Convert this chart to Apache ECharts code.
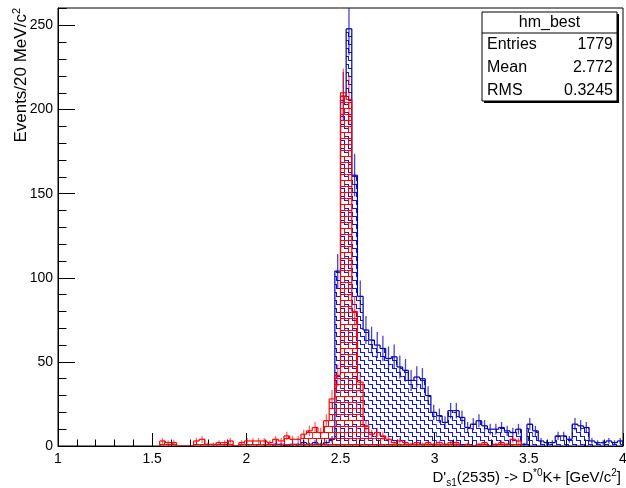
<!DOCTYPE html>
<html lang="en">
<head>
    <meta charset="UTF-8">
    <title>hm_best</title>
    <style>
        html, body { margin: 0; padding: 0; background: #fff; }
        #main { width: 626px; height: 488px; }
    </style>
</head>
<body>
<div id="main"></div>
<script src="https://cdn.jsdelivr.net/npm/echarts@6/dist/echarts.min.js"></script>
<script>
    // binning: 100 bins of 0.03 GeV between 1 and 4
    var xMin = 1.0, xMax = 4.0, binWidth = 0.03;
    var yMax = 260.4;

    // counts per bin
    var blueCounts = [
        0, 0, 0, 0, 0, 0, 0, 0, 0, 0,
        0, 0, 0, 0, 0, 0, 0, 0, 0, 0,
        0, 0, 0, 0, 0, 0, 0, 0, 0, 0,
        0, 0, 0, 0, 0, 0, 0, 0, 1, 1,
        0, 1, 1, 2, 1, 2, 1, 2, 4, 104,
        208, 248, 161, 89, 69, 63, 60, 58, 52, 53,
        47, 45, 39, 41, 40, 30, 20, 18, 14, 21,
        21, 17, 11, 13, 15, 12, 10, 10, 11, 9,
        8, 10, 1, 13, 9, 3, 2, 2, 6, 6,
        4, 13, 12, 11, 3, 2, 2, 3, 2, 3
    ];
    var redCounts = [
        0, 0, 0, 0, 0, 0, 0, 0, 0, 0,
        0, 0, 0, 0, 0, 0, 0, 0, 3, 2,
        2, 0, 0, 0, 3, 4, 1, 1, 2, 2,
        3, 0, 2, 3, 3, 3, 3, 2, 4, 3,
        6, 4, 4, 7, 9, 11, 8, 15, 28, 42,
        210, 206, 80, 38, 12, 7, 8, 6, 4, 2,
        3, 2, 1, 2, 1, 2, 1, 2, 1, 2,
        2, 0, 1, 0, 1, 2, 0, 1, 2, 1,
        4, 3, 0, 0, 0, 0, 0, 0, 0, 0,
        0, 0, 0, 0, 0, 0, 0, 0, 0, 0
    ];

    var statNames = ['Entries', 'Mean', 'RMS'];
    var statValues = ['1779', '2.772', '0.3245'];

    var FONT = '"Liberation Sans", Arial, Helvetica, sans-serif';

    // hatch tiles (ROOT fill styles: stairs for blue, bricks for red)
    function stairsTile(color) {
        var c = document.createElement('canvas');
        c.width = 8; c.height = 8;
        var g = c.getContext('2d');
        g.fillStyle = color;
        g.fillRect(0, 0, 5, 1);
        g.fillRect(4, 0, 1, 5);
        g.fillRect(4, 4, 4, 1);
        g.fillRect(0, 4, 1, 4);
        return c;
    }
    function bricksTile(color) {
        var c = document.createElement('canvas');
        c.width = 8; c.height = 12;
        var g = c.getContext('2d');
        g.fillStyle = color;
        g.fillRect(0, 0, 8, 1);
        g.fillRect(0, 6, 8, 1);
        g.fillRect(0, 0, 1, 6);
        g.fillRect(4, 6, 1, 6);
        return c;
    }

    function histSeries(name, counts, tile, lineColor, errColor) {
        var first = -1, last = -1;
        for (var i = 0; i < counts.length; i++) {
            if (counts[i] > 0) { if (first < 0) first = i; last = i; }
        }
        var data = counts.map(function (v, k) {
            return [xMin + k * binWidth, xMin + (k + 1) * binWidth, v];
        });
        var pattern = {image: tile, repeat: 'repeat'};
        return {
            type: 'custom',
            name: name,
            silent: true,
            clip: true,
            data: data,
            encode: {x: [0, 1], y: 2},
            renderItem: function (params, api) {
                var k = params.dataIndex;
                var lo = api.value(0), hi = api.value(1), v = api.value(2);
                var tl = api.coord([lo, v]);
                var br = api.coord([hi, 0]);
                var kids = [];
                if (v > 0) {
                    kids.push({
                        type: 'rect',
                        shape: {x: tl[0], y: tl[1], width: br[0] - tl[0], height: br[1] - tl[1]},
                        style: {fill: pattern}
                    });
                }
                if (k >= first && k <= last) {
                    var prev = k > first ? counts[k - 1] : 0;
                    var yPrev = api.coord([lo, prev])[1];
                    kids.push({type: 'line', shape: {x1: tl[0], y1: yPrev, x2: tl[0], y2: tl[1]},
                        style: {stroke: lineColor, lineWidth: 1.2}});
                    kids.push({type: 'line', shape: {x1: tl[0], y1: tl[1], x2: br[0], y2: tl[1]},
                        style: {stroke: lineColor, lineWidth: 1.2}});
                    if (k === last) {
                        kids.push({type: 'line', shape: {x1: br[0], y1: tl[1], x2: br[0], y2: br[1]},
                            style: {stroke: lineColor, lineWidth: 1.2}});
                    }
                }
                if (v > 0) {
                    var e = Math.sqrt(v);
                    var mid = (lo + hi) / 2;
                    var pU = api.coord([mid, v + e]);
                    var pD = api.coord([mid, v - e]);
                    kids.push({type: 'line', shape: {x1: pU[0], y1: pU[1], x2: pD[0], y2: pD[1]},
                        style: {stroke: errColor, lineWidth: 1.3}});
                }
                return {type: 'group', children: kids};
            }
        };
    }

    var myChart = echarts.init(document.getElementById('main'));

    var axisText = {color: '#000', fontSize: 14, fontFamily: FONT};

    var option = {
        animation: false,
        backgroundColor: '#fff',
        grid: {
            left: 58, right: 3, top: 8, bottom: 42,
            show: true, borderColor: '#000', borderWidth: 1,
            outerBoundsMode: 'none'
        },
        xAxis: {
            type: 'value',
            min: xMin, max: xMax, interval: 0.5,
            axisLine: {onZero: false, lineStyle: {color: '#000', width: 1}},
            axisTick: {inside: true, length: 13, lineStyle: {color: '#000'}},
            minorTick: {show: true, splitNumber: 5, length: 6.5, lineStyle: {color: '#000'}},
            splitLine: {show: false},
            minorSplitLine: {show: false},
            axisLabel: Object.assign({margin: 6}, axisText)
        },
        yAxis: [
            {
                type: 'value',
                min: 0, max: yMax, interval: 50,
                axisLine: {show: true, lineStyle: {color: '#000', width: 1}},
                axisTick: {show: true, inside: true, length: 17, lineStyle: {color: '#000'}},
                splitLine: {show: false},
                axisLabel: Object.assign({margin: 5, showMaxLabel: false}, axisText)
            },
            {
                // minor ticks every 10
                type: 'value', position: 'left', offset: 0,
                min: 0, max: yMax, interval: 10,
                axisLine: {show: false},
                axisTick: {show: true, inside: true, length: 8.5, lineStyle: {color: '#000'}},
                splitLine: {show: false},
                axisLabel: {show: false}
            }
        ],
        series: [
            histSeries('blue', blueCounts, stairsTile('#1010f0'), '#000099', 'rgba(10,10,190,0.75)'),
            histSeries('red', redCounts, bricksTile('#ff0000'), '#ff0000', 'rgba(255,0,0,0.6)')
        ],
        graphic: [
            {
                type: 'text', x: 621, y: 478, silent: true,
                style: {
                    text: "D'{sub|s1}(2535) -> D{sup|*0}K+ [GeV/c{sup|2}]",
                    font: '15px ' + FONT, fill: '#000', lineHeight: 20,
                    align: 'right', textAlign: 'right',
                    verticalAlign: 'middle', textVerticalAlign: 'middle',
                    rich: {
                        sub: {fontSize: 10, fontFamily: FONT, lineHeight: 11, verticalAlign: 'bottom'},
                        sup: {fontSize: 10, fontFamily: FONT, lineHeight: 11, verticalAlign: 'top'}
                    }
                }
            },
            {
                type: 'text', x: 21, y: 8, rotation: Math.PI / 2, silent: true,
                style: {
                    text: 'Events/20 MeV/c{sup|2}',
                    font: '17px ' + FONT, fill: '#000', lineHeight: 20,
                    align: 'right', textAlign: 'right',
                    verticalAlign: 'middle', textVerticalAlign: 'middle',
                    rich: {
                        sup: {fontSize: 11, fontFamily: FONT, lineHeight: 11, verticalAlign: 'top'}
                    }
                }
            },
            // stats box
            {type: 'rect', shape: {x: 484, y: 14, width: 135, height: 89}, style: {fill: '#000'}, silent: true},
            {type: 'rect', shape: {x: 482, y: 12, width: 135, height: 89},
                style: {fill: '#fff', stroke: '#000', lineWidth: 1}, silent: true},
            {type: 'line', shape: {x1: 482, y1: 33, x2: 617, y2: 33}, style: {stroke: '#000', lineWidth: 1}, silent: true},
            {type: 'text', x: 549.5, y: 22.5, silent: true,
                style: {text: 'hm_best', font: '16px ' + FONT, fill: '#000',
                    align: 'center', textAlign: 'center', verticalAlign: 'middle', textVerticalAlign: 'middle'}}
        ].concat(statNames.map(function (n, i) {
            return {type: 'text', x: 487, y: 45 + i * 23, silent: true,
                style: {text: n, font: '16px ' + FONT, fill: '#000',
                    align: 'left', textAlign: 'left', verticalAlign: 'middle', textVerticalAlign: 'middle'}};
        })).concat(statValues.map(function (s, i) {
            return {type: 'text', x: 613, y: 45 + i * 23, silent: true,
                style: {text: s, font: '16px ' + FONT, fill: '#000',
                    align: 'right', textAlign: 'right', verticalAlign: 'middle', textVerticalAlign: 'middle'}};
        }))
    };

    myChart.setOption(option);
</script>
</body>
</html>
